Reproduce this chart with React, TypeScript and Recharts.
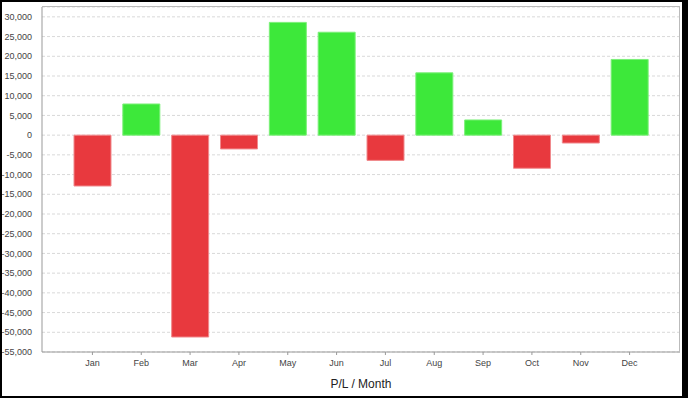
import React from "react";
import { ComposedChart, Bar, XAxis, YAxis, CartesianGrid, Cell } from "recharts";

const months = ["Jan", "Feb", "Mar", "Apr", "May", "Jun", "Jul", "Aug", "Sep", "Oct", "Nov", "Dec"];
const profitLoss = [-12900, 7900, -51200, -3500, 28600, 26100, -6400, 15800, 3850, -8400, -2000, 19200];
const yTicks = [30000, 25000, 20000, 15000, 10000, 5000, 0, -5000, -10000, -15000, -20000, -25000, -30000, -35000, -40000, -45000, -50000, -55000];

const data = months.map((m, i) => ({ month: m, pl: profitLoss[i] }));

const fmt = (v: number) => v.toLocaleString("en-US");

export default function App() {
  return (
    <div style={{ position: "absolute", left: 0, top: 0, width: 688, height: 398, background: "#fff" }}>
      <ComposedChart
        width={688}
        height={398}
        data={data}
        margin={{ top: 7, right: 8, left: 0, bottom: 0 }}
        style={{ fontFamily: "'Liberation Sans', Arial, sans-serif" }}
      >
        <CartesianGrid vertical={false} stroke="#d9d9d9" strokeDasharray="3 2" />
        <XAxis
          dataKey="month"
          height={46}
          padding={{ left: 26, right: 26 }}
          tick={{ fontSize: 9, fill: "#444" }}
          tickSize={3}
          tickMargin={5}
          tickLine={{ stroke: "#999" }}
          axisLine={{ stroke: "#999" }}
          interval={0}
          label={{ value: "P/L / Month", position: "insideBottom", offset: 10, fontSize: 12, fill: "#222" }}
        />
        <YAxis
          width={42}
          domain={[-55000, 32500]}
          ticks={yTicks}
          tickFormatter={fmt}
          tick={{ fontSize: 9, fill: "#444" }}
          tickLine={false}
          tickMargin={4}
          axisLine={{ stroke: "#999" }}
          allowDataOverflow
          interval={0}
        />
        <Bar dataKey="pl" barSize={37} isAnimationActive={false}>
          {data.map((d, i) => (
            <Cell
              key={i}
              fill={d.pl >= 0 ? "#3de83a" : "#e8393e"}
              stroke={d.pl >= 0 ? "#7bf078" : "#f08a8d"}
              strokeWidth={1}
            />
          ))}
        </Bar>
      </ComposedChart>
      <div
        style={{
          position: "absolute",
          left: 42,
          top: 6,
          width: 638,
          height: 346,
          boxSizing: "border-box",
          borderTop: "1.5px solid #bbb",
          borderRight: "1.5px solid #bbb",
          pointerEvents: "none",
        }}
      />
      <div
        style={{
          position: "absolute",
          left: 0,
          top: 0,
          width: 688,
          height: 398,
          boxSizing: "border-box",
          borderTop: "2px solid #000",
          borderLeft: "2px solid #000",
          borderBottom: "2px solid #000",
          borderRight: "6px solid #000",
          pointerEvents: "none",
        }}
      />
    </div>
  );
}
